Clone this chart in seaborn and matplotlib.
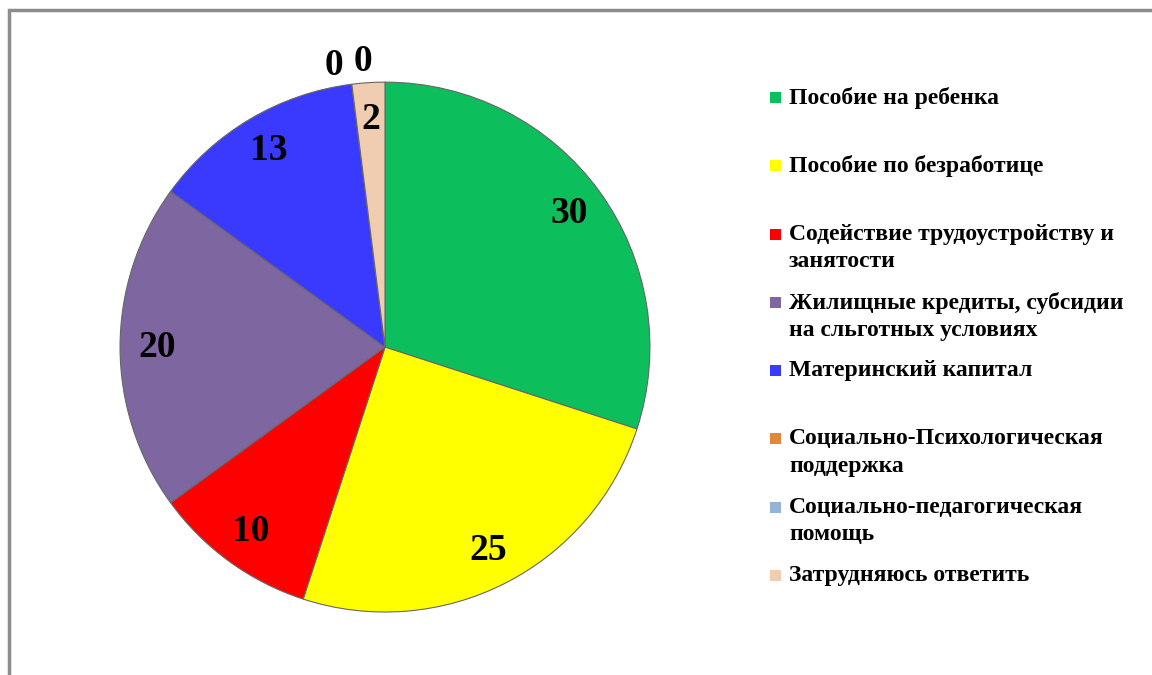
"""
plot.py
Круговая диаграмма: виды социальной поддержки (ответы респондентов).
"""

import numpy as np
import matplotlib
matplotlib.use("Agg")
import matplotlib.pyplot as plt
import matplotlib.patches as mpatches
import seaborn as sns

# ── Данные ───────────────────────────────────────────────────────────────────
CATEGORIES = [
    "Пособие на ребенка",
    "Пособие по безработице",
    "Содействие трудоустройству и\nзанятости",
    "Жилищные кредиты, субсидии\nна сльготных условиях",
    "Материнский капитал",
    "Социально-Психологическая\nподдержка",
    "Социально-педагогическая\nпомощь",
    "Затрудняюсь ответить",
]
VALUES = [30, 25, 10, 20, 13, 0, 0, 2]
COLORS = ["#0DBE5C", "#FFFF00", "#FF0000", "#7E66A0",
          "#3A3AFF", "#E0883C", "#95B3D7", "#F0CDB0"]

# ── Оформление ───────────────────────────────────────────────────────────────
sns.set_theme(style="white")
plt.rcParams["font.family"] = ["Liberation Serif", "DejaVu Serif"]

fig = plt.figure(figsize=(11.52, 6.75), dpi=100)

# рамка (правая и нижняя сторона за пределами картинки)
fig.patches.append(mpatches.Rectangle(
    (9 / 1152, -0.1), 1.2, 1 - 10 / 675 + 0.1, transform=fig.transFigure,
    fill=False, edgecolor="#8C8C8C", linewidth=2.5))

ax = fig.add_axes([0.1042, 0.0933, 0.46, 0.785])
wedges, _ = ax.pie(
    VALUES, colors=COLORS, startangle=90, counterclock=False, radius=1,
    wedgeprops=dict(edgecolor="#666666", linewidth=0.8)
)
ax.set_xlim(-1, 1)
ax.set_ylim(-1, 1)
ax.set_aspect("equal")
ax.axis("off")

# подписи значений
zero_shift = [3.1, -2.7]
zi = 0
for w, v in zip(wedges, VALUES):
    mid = np.deg2rad((w.theta1 + w.theta2) / 2)
    r = 0.86
    if v == 0:
        mid += np.deg2rad(zero_shift[zi])
        zi += 1
        r = 1.08
    ax.text(r * np.cos(mid), r * np.sin(mid), str(v), ha="center", va="center",
            fontsize=27, fontweight="bold", color="black", clip_on=False)

# легенда
y0, step = 1 - 97 / 675, 68.3 / 675
for i, (lab, col) in enumerate(zip(CATEGORIES, COLORS)):
    y = y0 - i * step
    fig.patches.append(mpatches.Rectangle(
        (770 / 1152, y - 6 / 675), 11 / 1152, 11 / 675,
        transform=fig.transFigure, facecolor=col, edgecolor="none"))
    fig.text(789 / 1152, y + 10 / 675, lab, ha="left", va="top",
             fontsize=17, fontweight="bold", color="black", linespacing=1.38)

plt.savefig("out.png", dpi=100)
plt.close()
